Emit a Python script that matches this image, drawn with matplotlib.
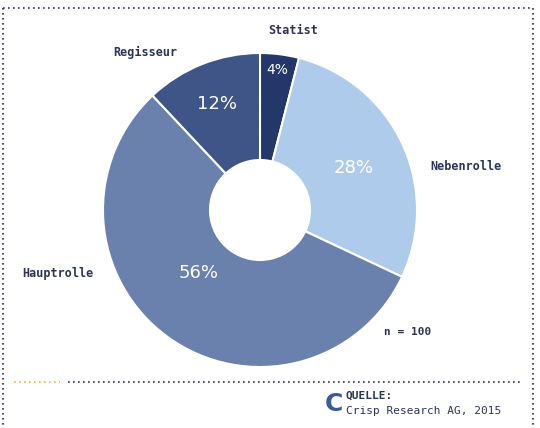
import matplotlib
matplotlib.use("Agg")
import matplotlib.pyplot as plt
from matplotlib.lines import Line2D

categories = ["Statist", "Nebenrolle", "Hauptrolle", "Regisseur"]
values = [4, 28, 56, 12]
colors = ["#23376a", "#afcbec", "#6a80ad", "#3f5487"]

W, H = 540, 428
fig = plt.figure(figsize=(W/100, H/100), dpi=100)
cx, cy, R = 260, 210, 157
ax = fig.add_axes([(cx-R)/W, (H-cy-R)/H, 2*R/W, 2*R/H])
ax.pie(values, colors=colors, startangle=90, counterclock=False, radius=1,
       wedgeprops=dict(width=1-50/157, edgecolor="white", linewidth=1.5))
ax.set_xlim(-1, 1); ax.set_ylim(-1, 1); ax.set_aspect("equal"); ax.axis("off")

def px(x, y): return x/W, 1-y/H
mono = "DejaVu Sans Mono"
lab_pos = [(293, 31), (466, 167), (58, 273), (145, 52)]
for c, (x, y) in zip(categories, lab_pos):
    fig.text(*px(x, y), c, ha="center", va="center", family=mono, fontsize=8.5,
             fontweight="bold", color="#2b3458")
pct_pos = [(277, 70), (354, 168), (199, 273), (217, 104)]
pct_size = [10, 13, 13, 13]
for v, (x, y), s in zip(values, pct_pos, pct_size):
    fig.text(*px(x, y), f"{v}%", ha="center", va="center", fontsize=s, color="white")
fig.text(*px(408, 332), "n = 100", ha="center", va="center", family=mono,
         fontsize=8, fontweight="bold", color="#2b3458")

# dotted frame
dot = dict(color="#2b3458", linestyle=(0, (1, 2)), linewidth=1.2)
fig.add_artist(Line2D([3/W, 3/W], [px(0, 8)[1], px(0, 428)[1]], **dot))
fig.add_artist(Line2D([533/W, 533/W], [px(0, 8)[1], px(0, 428)[1]], **dot))
fig.add_artist(Line2D([3/W, 533/W], [px(0, 8)[1]]*2, **dot))
fig.add_artist(Line2D([68/W, 520/W], [px(0, 382)[1]]*2, **dot))
fig.add_artist(Line2D([14/W, 60/W], [px(0, 382)[1]]*2, color="#f0b429",
                      linestyle=(0, (1, 2)), linewidth=1.2))

fig.text(*px(334, 404), "C", ha="center", va="center", fontsize=18,
         fontweight="bold", color="#3a5a9a")
fig.text(*px(346, 396), "QUELLE:", ha="left", va="center", family=mono,
         fontsize=8, fontweight="bold", color="#2b3458")
fig.text(*px(346, 411), "Crisp Research AG, 2015", ha="left", va="center",
         family=mono, fontsize=8, color="#2b3458")

fig.savefig("out.png", dpi=100)
